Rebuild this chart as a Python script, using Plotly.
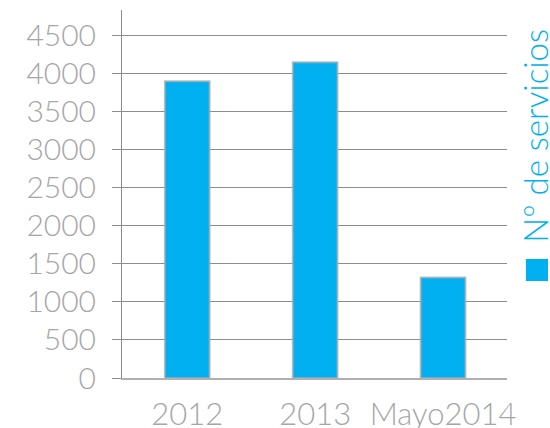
import plotly.graph_objects as go

categories = ["2012", "2013", "Mayo2014"]
servicios = [3900, 4150, 1320]
series_name = "Nº de servicios"
y_ticks = [0, 500, 1000, 1500, 2000, 2500, 3000, 3500, 4000, 4500]

BLUE = "#00B0F0"
GRAY_TXT = "#A6A6A6"
GRID = "#8C8C8C"
FONT = "Lato"

fig = go.Figure()
fig.add_trace(go.Bar(
    x=categories, y=servicios, name=series_name,
    marker=dict(color=BLUE, line=dict(color="rgba(170,170,170,0.7)", width=2)),
    width=0.35, showlegend=False,
))

fig.update_layout(
    width=550, height=428,
    margin=dict(l=122, r=43, t=10, b=50, autoexpand=False),
    paper_bgcolor="white", plot_bgcolor="white",
    font=dict(family=FONT, color=GRAY_TXT, size=31, weight=300),
    bargap=0.5,
)
fig.update_xaxes(
    type="category", range=[-0.51, 2.5], automargin=False,
    showgrid=False, showline=True, linecolor="#B0B0B0", linewidth=2,
    ticks="outside", ticklen=8, tickcolor="rgba(0,0,0,0)",
    tickfont=dict(family=FONT, size=31, color=GRAY_TXT, weight=300),
)
fig.update_yaxes(
    range=[0, 4836], tickvals=y_ticks, automargin=False,
    showgrid=True, gridcolor=GRID, gridwidth=1,
    showline=True, linecolor=GRID, linewidth=1,
    ticks="outside", ticklen=9, tickcolor=GRID,
    ticklabelstandoff=10,
    tickfont=dict(family=FONT, size=30, color=GRAY_TXT, weight=300),
    zeroline=False,
)

# rotated legend on the right
fig.add_shape(type="rect", xref="paper", yref="paper",
              x0=1.049, x1=1.1065, y0=0.2636, y1=0.3234,
              fillcolor=BLUE, line=dict(width=0))
fig.add_annotation(text=series_name, xref="paper", yref="paper",
                   x=1.072, y=0.6576, xanchor="center", yanchor="middle",
                   textangle=-90, showarrow=False,
                   font=dict(family=FONT, size=33, color=BLUE, weight=300))

fig.write_html(
    "out.html",
    config={"displayModeBar": False},
    post_script="document.body.style.margin='0';document.body.style.overflow='hidden';",
)
